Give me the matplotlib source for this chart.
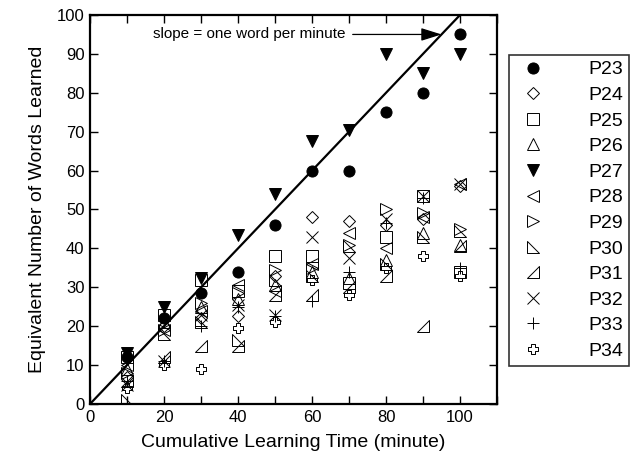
import matplotlib
matplotlib.use("Agg")
import matplotlib.pyplot as plt
from matplotlib.path import Path
import numpy as np

plt.rcParams['font.family'] = ['Liberation Sans', 'DejaVu Sans']

# cumulative learning time (minute)
minutes = [10, 20, 30, 40, 50, 60, 70, 80, 90, 100]

# equivalent number of words learned, per participant
p23 = [12, 22, 28.5, 34, 46, 60, 60, 75, 80, 95]
p24 = [7, 20, 22, 22.5, 33, 48, 47, 46, 47.5, 56]
p25 = [12, 23, 32, 29, 38, 38, 31, 43, 53.5, 34]
p26 = [9, 21, 25, 27, 30.5, 34, 32.5, 37, 44, 41]
p27 = [13, 25, 32.5, 43.5, 54, 67.5, 70.5, 90, 85, 90]
p28 = [10, 19, 24, 30.5, 29, 36, 44, 40, 48, 56.5]
p29 = [8, 19, 26, 28.5, 34.5, 35, 41, 50, 49, 45]
p30 = [1, 18, 21, 16.5, 32, 33, 40.5, 36, 43, 44.5]
p31 = [6, 12, 15, 15, 28, 28, 30, 33, 20, 40.5]
p32 = [5, 11, 23, 25.5, 23, 43, 37.5, 47.5, 53.5, 56.5]
p33 = [6, 11, 20, 25, 22.5, 26.5, 34, 46.5, 53, 35]
p34 = [4, 10, 9, 19.5, 21, 32, 28, 35, 38, 33]

labels = ['P23', 'P24', 'P25', 'P26', 'P27', 'P28',
          'P29', 'P30', 'P31', 'P32', 'P33', 'P34']
series = [p23, p24, p25, p26, p27, p28, p29, p30, p31, p32, p33, p34]

# reference line: slope = one word per minute
ref_x = [0, 100]
ref_y = [0, 100]

# marker shapes
tri_bl = Path([(-1, 1), (-1, -1), (1, -1), (-1, 1)], closed=True)   # right angle bottom-left
tri_br = Path([(1, 1), (1, -1), (-1, -1), (1, 1)], closed=True)     # right angle bottom-right
a = 0.38
plus_outline = Path([(-a, 1), (a, 1), (a, a), (1, a), (1, -a), (a, -a), (a, -1),
                     (-a, -1), (-a, -a), (-1, -a), (-1, a), (-a, a), (-a, 1)], closed=True)

styles = [
    dict(marker='o', ms=8, mfc='black'),
    dict(marker='D', ms=6, mfc='none'),
    dict(marker='s', ms=8, mfc='none'),
    dict(marker='^', ms=8, mfc='none'),
    dict(marker='v', ms=9, mfc='black'),
    dict(marker='<', ms=8, mfc='none'),
    dict(marker='>', ms=8, mfc='none'),
    dict(marker=tri_bl, ms=8, mfc='none'),
    dict(marker=tri_br, ms=8, mfc='none'),
    dict(marker='x', ms=8, mfc='none'),
    dict(marker='+', ms=9, mfc='none'),
    dict(marker=plus_outline, ms=7, mfc='none'),
]

fig = plt.figure(figsize=(6.42, 4.58), dpi=100)
ax = fig.add_axes([90/642, 1 - 404/458, 407/642, 389/458])

ax.plot(ref_x, ref_y, color='black', lw=1.6, zorder=1)

for vals, lab, st in zip(series, labels, styles):
    ax.plot(minutes, vals, ls='none', color='black', mec='black', mew=0.7,
            label=lab, zorder=3, **st)

ax.annotate('', xy=(95, 95), xytext=(71, 95),
            arrowprops=dict(arrowstyle='-|>,head_length=0.7,head_width=0.22',
                            color='black', lw=0.9, mutation_scale=18,
                            shrinkA=0, shrinkB=0))
ax.text(69, 95, 'slope = one word per minute', ha='right', va='center', fontsize=11)

ax.set_xlim(0, 110)
ax.set_ylim(0, 100)
ax.set_xticks(np.arange(0, 111, 10))
ax.set_xticklabels([str(t) if t % 20 == 0 and t <= 100 else '' for t in range(0, 111, 10)])
ax.set_yticks(np.arange(0, 101, 10))
ax.tick_params(direction='in', length=6, width=1, top=True, right=True,
               labelsize=12, pad=4)
for s in ax.spines.values():
    s.set_linewidth(1.6)

ax.set_xlabel('Cumulative Learning Time (minute)', fontsize=14, labelpad=7)
ax.set_ylabel('Equivalent Number of Words Learned', fontsize=14, labelpad=8)

leg = fig.legend(loc='upper left', bbox_to_anchor=(509/642, 1 - 55/458),
                 frameon=True, fancybox=False, edgecolor='black', fontsize=14,
                 labelspacing=0.41, handlelength=1.9, handletextpad=1.9,
                 borderpad=0.3, borderaxespad=0, numpoints=1)
leg.get_frame().set_linewidth(1.2)

fig.savefig('out.png', dpi=100)
